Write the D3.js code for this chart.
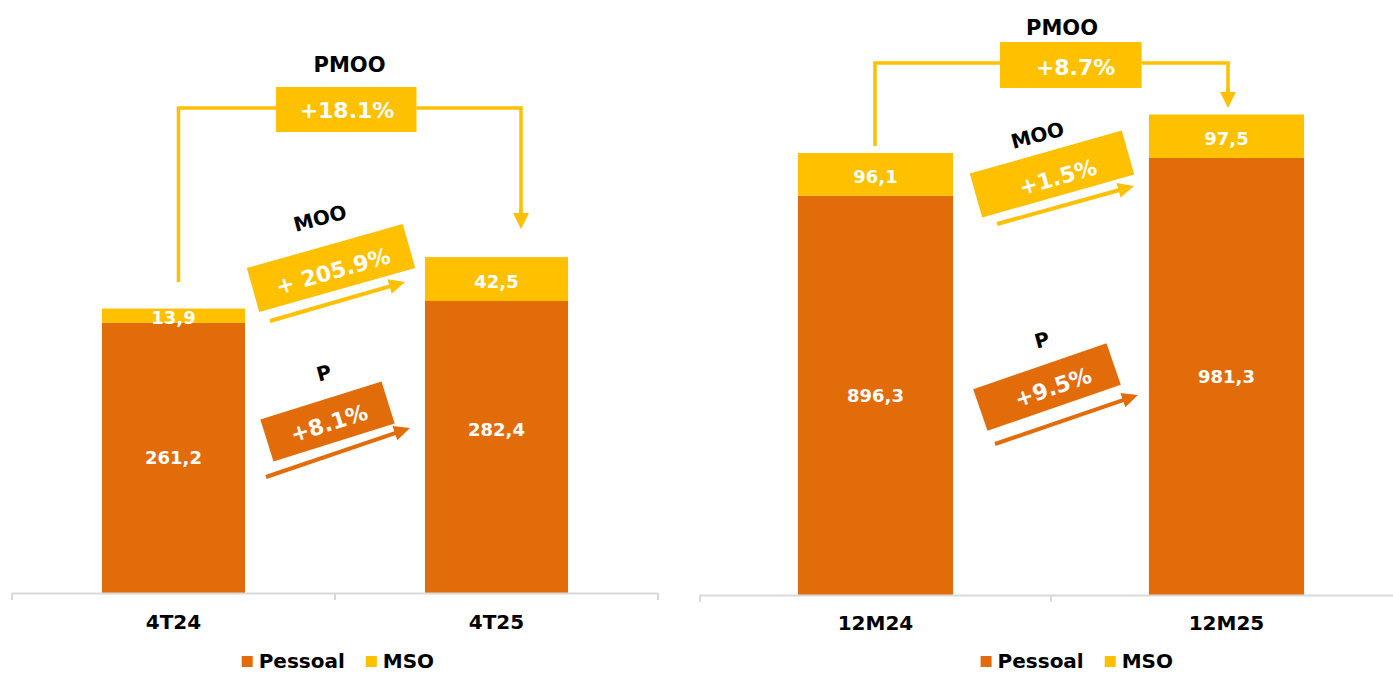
<!DOCTYPE html>
<html>
<head>
<meta charset="utf-8">
<script src="https://cdn.jsdelivr.net/npm/d3@7"></script>
<style>
  html, body { margin: 0; padding: 0; background: #ffffff; }
  svg text { font-family: "DejaVu Sans", Verdana, sans-serif; font-weight: bold; }
</style>
</head>
<body>
<svg id="chart" width="1393" height="673"></svg>
<script>
// ---- Data -------------------------------------------------------------
// Quarter comparison
const quarterCategories = ["4T24", "4T25"];
const quarterPessoal = [261.2, 282.4];
const quarterMSO = [13.9, 42.5];
const quarterChanges = ["+18.1%", "+ 205.9%", "+8.1%"]; // PMOO, MOO, P

// Twelve-month comparison
const annualCategories = ["12M24", "12M25"];
const annualPessoal = [896.3, 981.3];
const annualMSO = [96.1, 97.5];
const annualChanges = ["+8.7%", "+1.5%", "+9.5%"]; // PMOO, MOO, P

const seriesNames = ["Pessoal", "MSO"];
const changeNames = ["PMOO", "MOO", "P"];

// ---- Styling ----------------------------------------------------------
const ORANGE = "#E36C0A";
const YELLOW = "#FFC000";
const AXIS_GREY = "#d9d9d9";

const fmt = v => d3.format(".1f")(v).replace(".", ",");

const svg = d3.select("#chart");

// Panel layout (pixels) and annotation placement
const panels = [
  {
    categories: quarterCategories, pessoal: quarterPessoal, mso: quarterMSO, changes: quarterChanges,
    x0: 12, x1: 658, base: 593, top: 14, yMax: 560, pad: 0.557,
    pessoalLabelShift: [0, -18], catBaseline: 629, legendX: 241.7, legendBaseline: 668,
    pmoo: { label: [349.5, 64], box: [276, 87, 140.5, 45], text: [347, 110],
            bracketY: 108, leftX: 178.5, leftBottom: 282, rightX: 521, tipY: 229 },
    moo:  { label: [320, 218, -15], box: { cx: 331, cy: 268, w: 162, h: 45.6, a: -15.8 },
            text: [333, 271], arrow: [270, 321, 405, 282] },
    p:    { label: [324, 373, -15], box: { cx: 327.5, cy: 421.5, w: 127, h: 44, a: -17.4 },
            text: [329, 423], arrow: [266, 477, 410, 428] }
  },
  {
    categories: annualCategories, pessoal: annualPessoal, mso: annualMSO, changes: annualChanges,
    x0: 700, x1: 1402, base: 595, top: 16, yMax: 1300, pad: 0.558,
    pessoalLabelShift: [0, 0], catBaseline: 630, legendX: 980.6, legendBaseline: 668,
    pmoo: { label: [1062, 27], box: [1000, 42, 141.6, 46], text: [1075.6, 67],
            bracketY: 63, leftX: 875, leftBottom: 146, rightX: 1228, tipY: 108 },
    moo:  { label: [1037.5, 135, -15], box: { cx: 1052, cy: 174, w: 158, h: 45.6, a: -15.8 },
            text: [1057.7, 177], arrow: [997, 224, 1134, 186] },
    p:    { label: [1042, 340, -15], box: { cx: 1047, cy: 387, w: 141, h: 44, a: -19 },
            text: [1053, 387], arrow: [995, 444, 1138, 395] }
  }
];

// Straight arrow with a triangular head
function drawArrow(g, x1, y1, x2, y2, color, width, headLen, headW) {
  const dx = x2 - x1, dy = y2 - y1;
  const len = Math.hypot(dx, dy);
  const ux = dx / len, uy = dy / len;
  const bx = x2 - ux * headLen, by = y2 - uy * headLen;
  g.append("line")
    .attr("x1", x1).attr("y1", y1).attr("x2", bx + ux).attr("y2", by + uy)
    .attr("stroke", color).attr("stroke-width", width);
  g.append("polygon")
    .attr("points", [
      [x2, y2],
      [bx - uy * headW / 2, by + ux * headW / 2],
      [bx + uy * headW / 2, by - ux * headW / 2]
    ].map(p => p.join(",")).join(" "))
    .attr("fill", color);
}

function rotatedText(g, x, y, angle, text, size, color) {
  g.append("text")
    .attr("transform", `translate(${x},${y}) rotate(${angle})`)
    .attr("text-anchor", "middle")
    .attr("y", size * 0.36)
    .attr("font-size", size)
    .attr("fill", color)
    .text(text);
}

panels.forEach(cfg => {
  const g = svg.append("g");

  const x = d3.scaleBand()
    .domain(cfg.categories)
    .range([cfg.x0, cfg.x1])
    .paddingInner(cfg.pad)
    .paddingOuter(cfg.pad / 2);

  const y = d3.scaleLinear()
    .domain([0, cfg.yMax])
    .range([cfg.base, cfg.top]);

  const rows = cfg.categories.map((c, i) => ({
    cat: c, pessoal: cfg.pessoal[i], mso: cfg.mso[i], i
  }));
  const stack = d3.stack().keys(["pessoal", "mso"])(rows);
  const colors = [ORANGE, YELLOW];

  // Stacked bars
  stack.forEach((layer, li) => {
    g.append("g").selectAll("rect")
      .data(layer)
      .join("rect")
      .attr("x", d => x(d.data.cat))
      .attr("width", x.bandwidth())
      .attr("y", d => y(d[1]))
      .attr("height", d => y(d[0]) - y(d[1]))
      .attr("fill", colors[li]);
  });

  // Value labels inside the segments
  stack.forEach((layer, li) => {
    g.append("g").selectAll("text")
      .data(layer)
      .join("text")
      .attr("x", d => x(d.data.cat) + x.bandwidth() / 2)
      .attr("y", d => (y(d[0]) + y(d[1])) / 2 + 6.5 + (li === 0 ? cfg.pessoalLabelShift[d.data.i] : 2))
      .attr("text-anchor", "middle")
      .attr("font-size", 18)
      .attr("fill", "#ffffff")
      .text(d => fmt(d[1] - d[0]));
  });

  // Category axis: base line with ticks at band boundaries
  const axis = g.append("g").attr("stroke", AXIS_GREY).attr("stroke-width", 2);
  axis.append("line")
    .attr("x1", cfg.x0).attr("x2", cfg.x1)
    .attr("y1", cfg.base + 0.5).attr("y2", cfg.base + 0.5);
  const step = x.step();
  d3.range(cfg.categories.length + 1).forEach(k => {
    const tx = cfg.x0 + k * step;
    axis.append("line")
      .attr("x1", tx).attr("x2", tx)
      .attr("y1", cfg.base).attr("y2", cfg.base + 7);
  });

  g.append("g").selectAll("text")
    .data(cfg.categories)
    .join("text")
    .attr("x", d => x(d) + x.bandwidth() / 2)
    .attr("y", cfg.catBaseline)
    .attr("text-anchor", "middle")
    .attr("font-size", 20)
    .attr("fill", "#000000")
    .text(d => d);

  // Legend
  const lg = g.append("g");
  let lx = cfg.legendX;
  seriesNames.forEach((name, k) => {
    lg.append("rect")
      .attr("x", lx).attr("y", cfg.legendBaseline - 12)
      .attr("width", 11).attr("height", 11)
      .attr("fill", colors[k]);
    const t = lg.append("text")
      .attr("x", lx + 17).attr("y", cfg.legendBaseline)
      .attr("font-size", 20)
      .attr("fill", "#000000")
      .text(name);
    lx += 17 + t.node().getComputedTextLength() + 21;
  });

  // PMOO bracket from the first bar to the second
  const a = cfg.pmoo;
  const br = g.append("g");
  br.append("polyline")
    .attr("points", [[a.leftX, a.leftBottom], [a.leftX, a.bracketY], [a.box[0], a.bracketY]].map(p => p.join(",")).join(" "))
    .attr("fill", "none").attr("stroke", YELLOW).attr("stroke-width", 3.5);
  br.append("polyline")
    .attr("points", [[a.box[0] + a.box[2], a.bracketY], [a.rightX, a.bracketY], [a.rightX, a.tipY - 14]].map(p => p.join(",")).join(" "))
    .attr("fill", "none").attr("stroke", YELLOW).attr("stroke-width", 3.5);
  drawArrow(br, a.rightX, a.tipY - 20, a.rightX, a.tipY, YELLOW, 3.5, 16, 16);
  br.append("rect")
    .attr("x", a.box[0]).attr("y", a.box[1])
    .attr("width", a.box[2]).attr("height", a.box[3])
    .attr("fill", YELLOW);
  rotatedText(br, a.text[0], a.text[1], 0, cfg.changes[0], 22, "#ffffff");
  rotatedText(br, a.label[0], a.label[1], 0, changeNames[0], 21, "#000000");

  // Tilted MOO and P growth badges with arrows
  [[cfg.moo, YELLOW, 1], [cfg.p, ORANGE, 2]].forEach(([m, col, idx]) => {
    const bg = g.append("g");
    bg.append("rect")
      .attr("transform", `translate(${m.box.cx},${m.box.cy}) rotate(${m.box.a})`)
      .attr("x", -m.box.w / 2).attr("y", -m.box.h / 2)
      .attr("width", m.box.w).attr("height", m.box.h)
      .attr("fill", col);
    rotatedText(bg, m.text[0], m.text[1], m.box.a, cfg.changes[idx], 22, "#ffffff");
    rotatedText(bg, m.label[0], m.label[1], m.label[2], changeNames[idx], 20, "#000000");
    drawArrow(bg, m.arrow[0], m.arrow[1], m.arrow[2], m.arrow[3], col, 4, 16, 15);
  });
});
</script>
</body>
</html>
